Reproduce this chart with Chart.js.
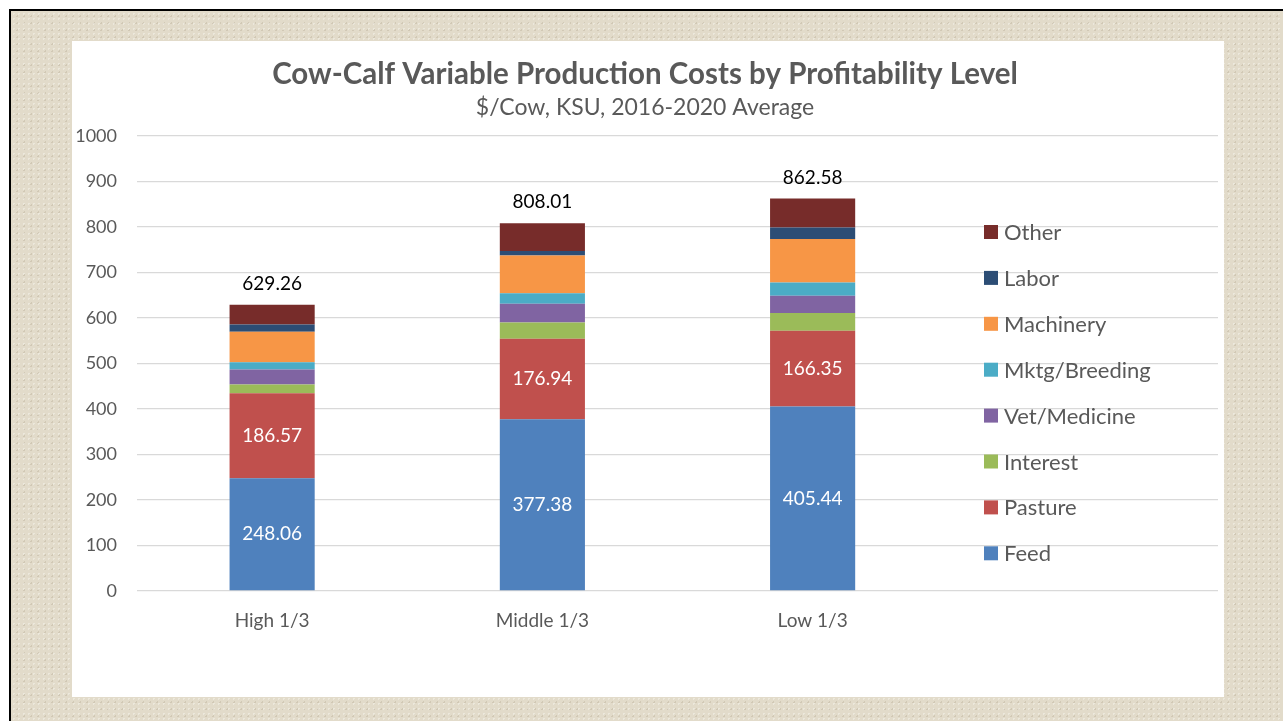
<!DOCTYPE html>
<html lang="en">
<head>
    <meta charset="UTF-8">
    <title>Cow-Calf Variable Production Costs</title>
    <script src="https://cdn.jsdelivr.net/npm/chart.js"></script>
    <style>
        html, body { margin: 0; padding: 0; background: #fff; }
        body { width: 1283px; height: 721px; overflow: hidden; position: relative; }
        .slide {
            position: absolute; left: 9px; top: 9px; width: 1300px; height: 740px;
            border-top: 2px solid #000; border-left: 2px solid #000;
            background-color: #e2dbca;
            background-image:
                radial-gradient(rgba(255,255,255,0.35) 1px, transparent 1px),
                radial-gradient(rgba(160,145,120,0.25) 1px, transparent 1px);
            background-size: 5px 5px, 7px 7px;
            background-position: 0 0, 3px 2px;
        }
        .panel { position: absolute; left: 72px; top: 41px; width: 1152px; height: 656px; background: #fff; }
    </style>
</head>
<body>
    <div class="slide"></div>
    <div class="panel"><canvas id="costChart" width="1152" height="656"></canvas></div>

    <script>
        const categories = ['High 1/3', 'Middle 1/3', 'Low 1/3', ''];
        const feed = [248.06, 377.38, 405.44];
        const pasture = [186.57, 176.94, 166.35];
        const interest = [19.3, 36, 39];
        const vetMedicine = [33, 41, 38];
        const mktgBreeding = [16, 23, 29];
        const machinery = [67, 83, 96];
        const labor = [16, 10, 25];
        const other = [43.33, 60.69, 63.79];
        const totals = [629.26, 808.01, 862.58];
        const yTicks = [0, 100, 200, 300, 400, 500, 600, 700, 800, 900, 1000];

        const FONT = 'Lato, "Open Sans", sans-serif';
        const GREY = '#595959';

        const series = [
            { label: 'Feed', data: feed, color: '#4F81BD', showValues: true },
            { label: 'Pasture', data: pasture, color: '#C0504D', showValues: true },
            { label: 'Interest', data: interest, color: '#9BBB59' },
            { label: 'Vet/Medicine', data: vetMedicine, color: '#8064A2' },
            { label: 'Mktg/Breeding', data: mktgBreeding, color: '#4BACC6' },
            { label: 'Machinery', data: machinery, color: '#F79646' },
            { label: 'Labor', data: labor, color: '#2C4D75' },
            { label: 'Other', data: other, color: '#772C2A' }
        ];

        // value labels inside segments + totals above the bars
        const labelPlugin = {
            id: 'labels',
            afterDatasetsDraw(chart) {
                const ctx = chart.ctx;
                ctx.save();
                ctx.textAlign = 'center';
                ctx.textBaseline = 'middle';
                ctx.font = '19px ' + FONT;
                chart.data.datasets.forEach((ds, i) => {
                    if (!series[i].showValues) return;
                    chart.getDatasetMeta(i).data.forEach((bar, j) => {
                        const mid = (bar.y + bar.base) / 2;
                        ctx.fillStyle = '#fff';
                        ctx.fillText(ds.data[j].toFixed(2), bar.x, mid);
                    });
                });
                const topMeta = chart.getDatasetMeta(series.length - 1);
                topMeta.data.forEach((bar, j) => {
                    ctx.fillStyle = '#000';
                    ctx.fillText(totals[j].toFixed(2), bar.x, bar.y - 21);
                });
                ctx.restore();
            }
        };

        // vertical legend drawn over the empty fourth slot
        const legendPlugin = {
            id: 'sideLegend',
            afterDraw(chart) {
                const ctx = chart.ctx;
                const area = chart.chartArea;
                const x = area.left + 847;
                let y = area.top + 96;
                ctx.save();
                ctx.font = '22px ' + FONT;
                ctx.textBaseline = 'middle';
                for (let i = series.length - 1; i >= 0; i--) {
                    ctx.fillStyle = series[i].color;
                    ctx.fillRect(x, y - 7, 14, 14);
                    ctx.fillStyle = GREY;
                    ctx.fillText(series[i].label, x + 20, y + 1);
                    y += 45.9;
                }
                ctx.restore();
            }
        };

        new Chart(document.getElementById('costChart'), {
            type: 'bar',
            data: {
                labels: categories,
                datasets: series.map(s => ({
                    label: s.label,
                    data: s.data,
                    backgroundColor: s.color,
                    borderWidth: 0,
                    barPercentage: 0.315,
                    categoryPercentage: 1
                }))
            },
            options: {
                responsive: false,
                animation: false,
                layout: { padding: { left: 0, right: 6, top: 0, bottom: 0 } },
                scales: {
                    x: {
                        stacked: true,
                        grid: { display: false },
                        border: { display: false },
                        ticks: { color: GREY, font: { family: FONT, size: 19 }, padding: 10 },
                        afterFit(scale) { scale.height = 106; }
                    },
                    y: {
                        stacked: true,
                        min: 0,
                        max: 1000,
                        afterBuildTicks(scale) { scale.ticks = yTicks.map(v => ({ value: v })); },
                        grid: { color: '#d9d9d9', lineWidth: 1.3, drawTicks: false },
                        border: { display: false },
                        ticks: {
                            color: GREY,
                            font: { family: FONT, size: 18 },
                            padding: 20,
                            callback: v => String(v)
                        },
                        afterFit(scale) { scale.width = 65; }
                    }
                },
                plugins: {
                    legend: { display: false },
                    tooltip: { enabled: false },
                    title: {
                        display: true,
                        text: 'Cow-Calf Variable Production Costs by Profitability Level',
                        color: GREY,
                        font: { family: FONT, size: 29.5, weight: 'bold' },
                        padding: { top: 16, bottom: 1 }
                    },
                    subtitle: {
                        display: true,
                        text: '$/Cow, KSU, 2016-2020 Average',
                        color: GREY,
                        font: { family: FONT, size: 23 },
                        padding: { top: 0, bottom: 15 }
                    }
                }
            },
            plugins: [labelPlugin, legendPlugin]
        });
    </script>
</body>
</html>
